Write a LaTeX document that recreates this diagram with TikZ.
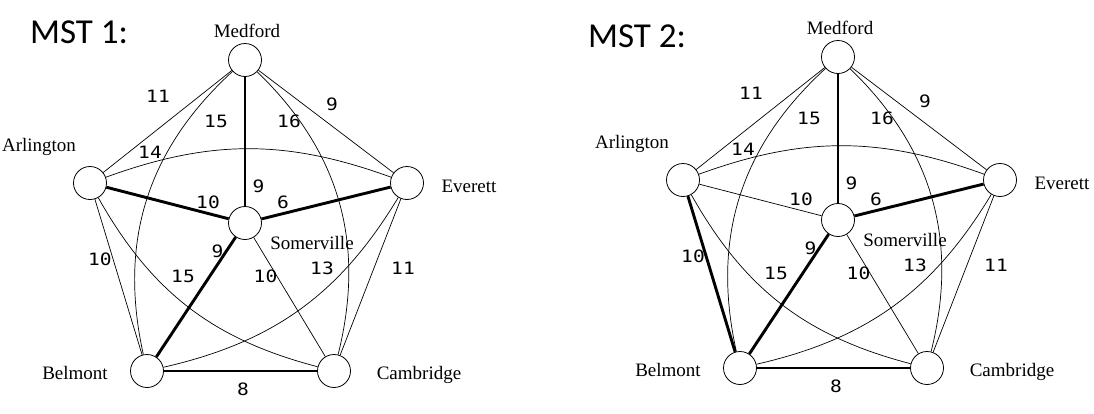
\documentclass[tikz,border=0pt]{standalone}
\usepackage{fontspec}
\setmainfont{Liberation Serif}
\newfontfamily\titlefont{Carlito}
\newfontfamily\wfont[FakeStretch=1.15]{DejaVu Sans Mono}
\tikzset{
  city/.style={circle,draw,line width=0.8pt,minimum size=33pt,inner sep=0pt,fill=white},
  tedge/.style={line width=0.7pt},
  mst/.style={line width=2.9pt},
  place/.style={font=\fontsize{19}{19}\selectfont, anchor=base, inner sep=0pt},
  wt/.style={font=\wfont\fontsize{17}{17}\selectfont, inner sep=0pt},
  ttl/.style={font=\titlefont\fontsize{35}{35}\selectfont, inner sep=0pt},
}
\newcommand\mstgraph[3]{%
  \node[city] (#1M) at (245,60) {};
  \node[city] (#1A) at (90,183) {};
  \node[city] (#1E) at (407,183) {};
  \node[city] (#1S) at (245,223) {};
  \node[city] (#1B) at (147,371) {};
  \node[city] (#1C) at (334,371) {};
  \node[place] (#1Ml) at (247,37) {Medford};
  \node[place] (#1Al) at (39,151) {Arlington};
  \node[place] (#1El) at (469,192) {Everett};
  \node[place] (#1Sl) at (312,249) {Somerville};
  \node[place] (#1Bl) at (75,379) {Belmont};
  \node[place] (#1Cl) at (419,379) {Cambridge};
  \draw[tedge] (#1M) -- (#1A);
  \draw[tedge] (#1M) -- (#1E);
  \draw[#3] (#1A) -- (#1B);
  \draw[tedge] (#1E) -- (#1C);
  \draw[mst] (#1B) -- (#1C);
  \draw[tedge] (#1M) to[bend right=30] (#1B);
  \draw[tedge] (#1M) to[bend left=30] (#1C);
  \draw[tedge] (#1A) to[bend left=20] (#1E);
  \draw[tedge] (#1A) to[bend right=23] (#1C);
  \draw[tedge] (#1B) to[bend right=23] (#1E);
  \draw[mst] (#1S) -- (#1M);
  \draw[#2] (#1S) -- (#1A);
  \draw[mst] (#1S) -- (#1E);
  \draw[mst] (#1S) -- (#1B);
  \draw[tedge] (#1S) -- (#1C);
  \node[wt] (#1w1) at (158,96) {11};
  \node[wt] (#1w2) at (332,104) {9};
  \node[wt] (#1w3) at (216,121) {15};
  \node[wt] (#1w4) at (289,121) {16};
  \node[wt] (#1w5) at (150,152.5) {14};
  \node[wt] (#1w6) at (258.5,186) {9};
  \node[wt] (#1w7) at (208,202) {10};
  \node[wt] (#1w8) at (283,202) {6};
  \node[wt] (#1w9) at (100,259.5) {10};
  \node[wt] (#1w10) at (217.5,251) {9};
  \node[wt] (#1w11) at (183,276) {15};
  \node[wt] (#1w12) at (265.5,276) {10};
  \node[wt] (#1w13) at (322,268) {13};
  \node[wt] (#1w14) at (403,268) {11};
  \node[wt] (#1w15) at (243,389.5) {8};
}
\begin{document}
\begin{tikzpicture}[x=1pt,y=-1pt]
  \fill[white] (0,0) rectangle (1094,413);
  \useasboundingbox (0,0) rectangle (1094,413);
  \node[ttl] (t1) at (79,32) {MST 1:};
  \node[ttl] (t2) at (637,36.5) {MST 2:};
  \mstgraph{l}{mst}{tedge}
  \begin{scope}[shift={(593,-3)}]
    \mstgraph{r}{tedge}{mst}
  \end{scope}
\end{tikzpicture}
\end{document}
